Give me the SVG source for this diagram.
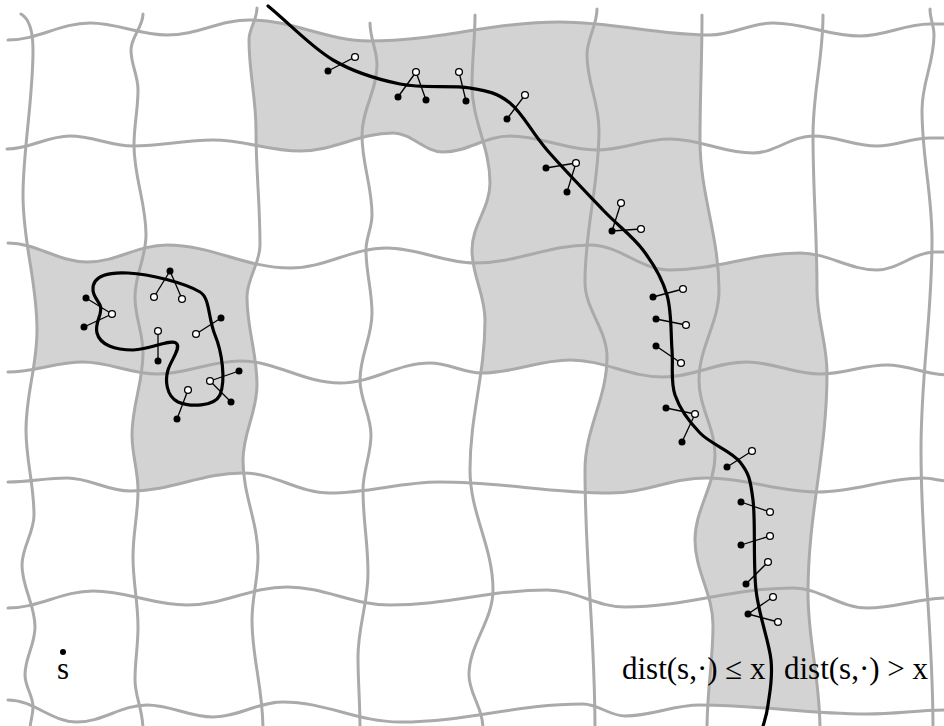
<svg xmlns="http://www.w3.org/2000/svg" width="944" height="726" viewBox="0 0 944 726">
<style>
.sh{fill:#d3d3d3;stroke:none}
.gl{fill:none;stroke:#aaaaaa;stroke-width:3;stroke-linecap:round}
.bc{fill:none;stroke:#000;stroke-width:3.2;stroke-linecap:round}
.dl{stroke:#000;stroke-width:1.3}
.fd{fill:#000}
.od{fill:#fff;stroke:#000;stroke-width:1.3}
.tx{font-family:"Liberation Serif","Times New Roman",serif;font-size:31px;fill:#000}
</style>
<defs>
<path id="H0" d="M8,40 C38,40 60,23 90,23 C118,23 139,35 167,35 C198,35 219,20 250,20 C294,20 326,41 370,41 C440,41 490,22 560,22 C615,22 655,35 710,35 C733,35 750,23 773,23 C805,23 828,36 860,36 C886,36 904,24 930,24 L948,24"/>
<path id="H1" d="M7,149 C30,149 47,136 70,136 C93,136 110,146 133,146 C163,146 183,140 213,140 C245,140 268,151 300,151 C334,151 359,133 393,133 C411,133 425,152 443,152 C468,152 485,136 510,136 C542,136 565,150 597,150 C624,150 643,139 670,139 C701,139 722,153 753,153 C775,153 791,136 813,136 C837,136 853,146 877,146 C897,146 910,138 930,138 L948,138"/>
<path id="H2" d="M8,243 C37,243 58,262 87,262 C117,262 137,245 167,245 C212,245 245,268 290,268 C326,268 351,248 387,248 C419,248 443,263 475,263 C517,263 548,245 590,245 C620,245 640,270 670,270 C718,270 752,253 800,253 C828,253 849,270 877,270 C898,270 914,252 935,252 L948,252"/>
<path id="H3" d="M8,372 C36,372 55,362 83,362 C110,362 130,374 157,374 C188,374 209,361 240,361 C277,361 303,383 340,383 C373,383 397,363 430,363 C449,363 463,373 482,373 C514,373 538,360 570,360 C604,360 629,377 663,377 C694,377 716,362 747,362 C774,362 793,374 820,374 C845,374 862,365 887,365 C909,365 926,375 948,375"/>
<path id="H4" d="M8,482 C30,482 45,478 67,478 C90,478 107,491 130,491 C172,491 201,473 243,473 C275,473 298,493 330,493 C371,493 399,482 440,482 C503,482 547,493 610,493 C646,493 671,478 707,478 C748,478 777,492 818,492 C857,492 884,478 923,478 C932,478 939,481 948,481"/>
<path id="H5" d="M8,608 C39,608 62,591 93,591 C128,591 152,605 187,605 C224,605 250,587 287,587 C325,587 352,605 390,605 C448,605 489,590 547,590 C576,590 596,607 625,607 C687,607 731,588 793,588 C820,588 840,608 867,608 C897,608 918,598 948,598"/>
<path id="H6" d="M8,700 C34,700 51,722 77,722 C103,722 121,705 147,705 C171,705 189,717 213,717 C239,717 257,702 283,702 C326,702 357,722 400,722 C468,722 515,704 583,704 C598,704 610,716 625,716 C653,716 672,705 700,705 C762,705 805,714 867,714 C897,714 918,710 948,710"/>
<path id="V0" d="M21,14 C28,18 33,28 33,50 C33,100 23,150 23,195 C23,245 37,280 37,330 C37,367 26,393 26,430 C26,461 34,484 34,515 C34,533 22,547 22,565 C22,588 35,604 35,627 C35,645 25,657 25,675 C25,687 33,695 33,707 C33,716 30,721 30,730"/>
<path id="V1" d="M143,14 C143,27 131,37 131,50 C131,65 138,75 138,90 C138,110 134,125 134,145 C134,178 146,202 146,235 C146,258 135,274 135,297 C135,318 143,332 143,353 C143,383 132,405 132,435 C132,455 138,470 138,490 C138,515 133,532 133,557 C133,583 138,601 138,627 C138,647 135,660 135,680 C135,697 143,709 143,730"/>
<path id="V2" d="M257,8 C257,20 249,28 249,40 C249,73 256,97 256,130 C256,173 260,202 260,245 C260,264 247,278 247,297 C247,330 257,352 257,385 C257,413 243,432 243,460 C243,496 258,521 258,557 C258,580 252,597 252,620 C252,659 263,687 263,730"/>
<path id="V3" d="M370,23 C370,39 377,49 377,65 C377,91 362,109 362,135 C362,165 372,185 372,215 C372,228 366,237 366,250 C366,273 372,290 372,313 C372,338 360,355 360,380 C360,400 371,415 371,435 C371,455 363,470 363,490 C363,521 368,542 368,573 C368,604 358,626 358,657 C358,683 360,700 360,730"/>
<path id="V4" d="M475,15 C475,41 472,59 472,85 C472,121 490,147 490,183 C490,208 472,225 472,250 C472,276 485,294 485,320 C485,375 470,415 470,470 C470,514 493,546 493,590 C493,621 469,644 469,675 C469,694 483,707 483,730"/>
<path id="V5" d="M597,9 C597,26 587,38 587,55 C587,83 599,102 599,130 C599,186 585,226 585,282 C585,310 607,329 607,357 C607,399 585,428 585,470 C585,565 595,631 595,730"/>
<path id="V6" d="M702,15 C702,61 700,94 700,140 C700,195 719,235 719,290 C719,323 699,347 699,380 C699,408 715,427 715,455 C715,486 695,509 695,540 C695,571 713,594 713,625 C713,662 707,689 707,730"/>
<path id="V7" d="M823,15 C823,59 813,91 813,135 C813,192 817,233 817,290 C817,321 827,342 827,373 C827,454 808,512 808,593 C808,642 820,677 820,730"/>
<path id="V8" d="M930,9 C930,19 934,25 934,35 C934,63 922,82 922,110 C922,158 932,192 932,240 C932,318 921,372 921,450 C921,552 933,624 933,730"/>

<clipPath id="bH0"><path d="M8,40 C38,40 60,23 90,23 C118,23 139,35 167,35 C198,35 219,20 250,20 C294,20 326,41 370,41 C440,41 490,22 560,22 C615,22 655,35 710,35 C733,35 750,23 773,23 C805,23 828,36 860,36 C886,36 904,24 930,24 L960,24 L960,740 L-20,740 L-20,40 Z"/></clipPath>
<clipPath id="bH1"><path d="M7,149 C30,149 47,136 70,136 C93,136 110,146 133,146 C163,146 183,140 213,140 C245,140 268,151 300,151 C334,151 359,133 393,133 C411,133 425,152 443,152 C468,152 485,136 510,136 C542,136 565,150 597,150 C624,150 643,139 670,139 C701,139 722,153 753,153 C775,153 791,136 813,136 C837,136 853,146 877,146 C897,146 910,138 930,138 L960,138 L960,740 L-20,740 L-20,149 Z"/></clipPath>
<clipPath id="aH1"><path d="M7,149 C30,149 47,136 70,136 C93,136 110,146 133,146 C163,146 183,140 213,140 C245,140 268,151 300,151 C334,151 359,133 393,133 C411,133 425,152 443,152 C468,152 485,136 510,136 C542,136 565,150 597,150 C624,150 643,139 670,139 C701,139 722,153 753,153 C775,153 791,136 813,136 C837,136 853,146 877,146 C897,146 910,138 930,138 L960,138 L960,-20 L-20,-20 L-20,149 Z"/></clipPath>
<clipPath id="bH2"><path d="M8,243 C37,243 58,262 87,262 C117,262 137,245 167,245 C212,245 245,268 290,268 C326,268 351,248 387,248 C419,248 443,263 475,263 C517,263 548,245 590,245 C620,245 640,270 670,270 C718,270 752,253 800,253 C828,253 849,270 877,270 C898,270 914,252 935,252 L960,252 L960,740 L-20,740 L-20,243 Z"/></clipPath>
<clipPath id="bH3"><path d="M8,372 C36,372 55,362 83,362 C110,362 130,374 157,374 C188,374 209,361 240,361 C277,361 303,383 340,383 C373,383 397,363 430,363 C449,363 463,373 482,373 C514,373 538,360 570,360 C604,360 629,377 663,377 C694,377 716,362 747,362 C774,362 793,374 820,374 C845,374 862,365 887,365 C909,365 926,375 948,375 L960,375 L960,740 L-20,740 L-20,372 Z"/></clipPath>
<clipPath id="aH3"><path d="M8,372 C36,372 55,362 83,362 C110,362 130,374 157,374 C188,374 209,361 240,361 C277,361 303,383 340,383 C373,383 397,363 430,363 C449,363 463,373 482,373 C514,373 538,360 570,360 C604,360 629,377 663,377 C694,377 716,362 747,362 C774,362 793,374 820,374 C845,374 862,365 887,365 C909,365 926,375 948,375 L960,375 L960,-20 L-20,-20 L-20,372 Z"/></clipPath>
<clipPath id="aH4"><path d="M8,482 C30,482 45,478 67,478 C90,478 107,491 130,491 C172,491 201,473 243,473 C275,473 298,493 330,493 C371,493 399,482 440,482 C503,482 547,493 610,493 C646,493 671,478 707,478 C748,478 777,492 818,492 C857,492 884,478 923,478 C932,478 939,481 948,481 L960,481 L960,-20 L-20,-20 L-20,482 Z"/></clipPath>
<clipPath id="aH6"><path d="M8,700 C34,700 51,722 77,722 C103,722 121,705 147,705 C171,705 189,717 213,717 C239,717 257,702 283,702 C326,702 357,722 400,722 C468,722 515,704 583,704 C598,704 610,716 625,716 C653,716 672,705 700,705 C762,705 805,714 867,714 C897,714 918,710 948,710 L960,710 L960,-20 L-20,-20 L-20,700 Z"/></clipPath>
<clipPath id="rV0"><path d="M21,14 C28,18 33,28 33,50 C33,100 23,150 23,195 C23,245 37,280 37,330 C37,367 26,393 26,430 C26,461 34,484 34,515 C34,533 22,547 22,565 C22,588 35,604 35,627 C35,645 25,657 25,675 C25,687 33,695 33,707 C33,716 30,721 30,730 L30,740 L960,740 L960,-20 L21,-20 Z"/></clipPath>
<clipPath id="rV1"><path d="M143,14 C143,27 131,37 131,50 C131,65 138,75 138,90 C138,110 134,125 134,145 C134,178 146,202 146,235 C146,258 135,274 135,297 C135,318 143,332 143,353 C143,383 132,405 132,435 C132,455 138,470 138,490 C138,515 133,532 133,557 C133,583 138,601 138,627 C138,647 135,660 135,680 C135,697 143,709 143,730 L143,740 L960,740 L960,-20 L143,-20 Z"/></clipPath>
<clipPath id="rV2"><path d="M257,8 C257,20 249,28 249,40 C249,73 256,97 256,130 C256,173 260,202 260,245 C260,264 247,278 247,297 C247,330 257,352 257,385 C257,413 243,432 243,460 C243,496 258,521 258,557 C258,580 252,597 252,620 C252,659 263,687 263,730 L263,740 L960,740 L960,-20 L257,-20 Z"/></clipPath>
<clipPath id="lV2"><path d="M257,8 C257,20 249,28 249,40 C249,73 256,97 256,130 C256,173 260,202 260,245 C260,264 247,278 247,297 C247,330 257,352 257,385 C257,413 243,432 243,460 C243,496 258,521 258,557 C258,580 252,597 252,620 C252,659 263,687 263,730 L263,740 L-20,740 L-20,-20 L257,-20 Z"/></clipPath>
<clipPath id="rV4"><path d="M475,15 C475,41 472,59 472,85 C472,121 490,147 490,183 C490,208 472,225 472,250 C472,276 485,294 485,320 C485,375 470,415 470,470 C470,514 493,546 493,590 C493,621 469,644 469,675 C469,694 483,707 483,730 L483,740 L960,740 L960,-20 L475,-20 Z"/></clipPath>
<clipPath id="rV5"><path d="M597,9 C597,26 587,38 587,55 C587,83 599,102 599,130 C599,186 585,226 585,282 C585,310 607,329 607,357 C607,399 585,428 585,470 C585,565 595,631 595,730 L595,740 L960,740 L960,-20 L597,-20 Z"/></clipPath>
<clipPath id="rV6"><path d="M702,15 C702,61 700,94 700,140 C700,195 719,235 719,290 C719,323 699,347 699,380 C699,408 715,427 715,455 C715,486 695,509 695,540 C695,571 713,594 713,625 C713,662 707,689 707,730 L707,740 L960,740 L960,-20 L702,-20 Z"/></clipPath>
<clipPath id="lV6"><path d="M702,15 C702,61 700,94 700,140 C700,195 719,235 719,290 C719,323 699,347 699,380 C699,408 715,427 715,455 C715,486 695,509 695,540 C695,571 713,594 713,625 C713,662 707,689 707,730 L707,740 L-20,740 L-20,-20 L702,-20 Z"/></clipPath>
<clipPath id="lV7"><path d="M823,15 C823,59 813,91 813,135 C813,192 817,233 817,290 C817,321 827,342 827,373 C827,454 808,512 808,593 C808,642 820,677 820,730 L820,740 L-20,740 L-20,-20 L823,-20 Z"/></clipPath>
</defs>

<g id="shading">
<g clip-path="url(#bH0)"><g clip-path="url(#aH1)"><g clip-path="url(#rV2)"><rect class="sh" clip-path="url(#lV6)" x="0" y="0" width="944" height="726"/></g></g></g>
<g clip-path="url(#bH1)"><g clip-path="url(#aH3)"><g clip-path="url(#rV4)"><rect class="sh" clip-path="url(#lV6)" x="0" y="0" width="944" height="726"/></g></g></g>
<g clip-path="url(#bH2)"><g clip-path="url(#aH6)"><g clip-path="url(#rV6)"><rect class="sh" clip-path="url(#lV7)" x="0" y="0" width="944" height="726"/></g></g></g>
<g clip-path="url(#bH3)"><g clip-path="url(#aH4)"><g clip-path="url(#rV5)"><rect class="sh" clip-path="url(#lV6)" x="0" y="0" width="944" height="726"/></g></g></g>
<g clip-path="url(#bH2)"><g clip-path="url(#aH3)"><g clip-path="url(#rV0)"><rect class="sh" clip-path="url(#lV2)" x="0" y="0" width="944" height="726"/></g></g></g>
<g clip-path="url(#bH3)"><g clip-path="url(#aH4)"><g clip-path="url(#rV1)"><rect class="sh" clip-path="url(#lV2)" x="0" y="0" width="944" height="726"/></g></g></g>
</g>

<g id="grid" class="gl">
<use href="#H0"/><use href="#H1"/><use href="#H2"/><use href="#H3"/><use href="#H4"/><use href="#H5"/><use href="#H6"/>
<use href="#V0"/><use href="#V1"/><use href="#V2"/><use href="#V3"/><use href="#V4"/><use href="#V5"/><use href="#V6"/><use href="#V7"/><use href="#V8"/>
</g>

<g id="connectors">
<path id="boundary" class="bc" d="M268,6 C290,24 311,47 333,60 C355,73 377.2,79.3 400,84 C422.8,88.7 451.7,84.8 470,88 C488.3,91.2 497.2,92.7 510,103 C522.8,113.3 531.5,132.2 547,150 C562.5,167.8 587,193.3 603,210 C619,226.7 632.3,235.8 643,250 C653.7,264.2 662.2,278.3 667,295 C671.8,311.7 670.7,333.3 672,350 C673.3,366.7 670.3,381.2 675,395 C679.7,408.8 689.2,421.8 700,433 C710.8,444.2 731.2,450.8 740,462 C748.8,473.2 750.3,478.7 753,500 C755.7,521.3 753,563.3 756,590 C759,616.7 769,640.8 771,660 C773,679.2 769.5,693.3 768,705 C766.5,716.7 764,721.7 762,730"/>
<path id="loop" class="bc" d="M93,290 C92,275 110,272 128,273 C150,274 185,283 200,292 C210,298 208,318 215,335 C222,352 226,380 220,395 C214,407 190,407 178,402 C166,396 165,380 168,370 C171,360 182,347 176,343 C170,339 152,349 133,350 C115,350 100,345 97,333 C94,322 104,313 100,305 C96,298 93,295 93,290 Z"/>
</g>

<g id="edges-lines" class="dl">
<line x1="328" y1="71" x2="355" y2="57"/>
<line x1="398" y1="97" x2="416" y2="72"/>
<line x1="426" y1="100" x2="416" y2="72"/>
<line x1="466" y1="101" x2="459" y2="72"/>
<line x1="507" y1="119" x2="525" y2="95"/>
<line x1="546" y1="168" x2="576" y2="163"/>
<line x1="567" y1="192" x2="576" y2="163"/>
<line x1="612" y1="231" x2="621" y2="203"/>
<line x1="612" y1="231" x2="641" y2="229"/>
<line x1="653" y1="297" x2="683" y2="289"/>
<line x1="656" y1="319" x2="686" y2="325"/>
<line x1="656" y1="346" x2="681" y2="363"/>
<line x1="666" y1="408" x2="695" y2="414"/>
<line x1="682" y1="442" x2="695" y2="414"/>
<line x1="727" y1="467" x2="752" y2="451"/>
<line x1="741" y1="502" x2="770" y2="512"/>
<line x1="741" y1="545" x2="770" y2="536"/>
<line x1="746" y1="584" x2="768" y2="562"/>
<line x1="748" y1="614" x2="773" y2="597"/>
<line x1="748" y1="614" x2="778" y2="622"/>
<line x1="170" y1="271" x2="154" y2="297"/>
<line x1="170" y1="271" x2="182" y2="299"/>
<line x1="86" y1="298" x2="112" y2="314"/>
<line x1="84" y1="327" x2="112" y2="314"/>
<line x1="158" y1="361" x2="158" y2="331"/>
<line x1="221" y1="318" x2="196" y2="334"/>
<line x1="239" y1="371" x2="210" y2="381"/>
<line x1="231" y1="402" x2="210" y2="381"/>
<line x1="177" y1="419" x2="188" y2="390"/>
</g>

<g id="filled-nodes" class="fd">
<circle cx="328" cy="71" r="3.5"/><circle cx="398" cy="97" r="3.5"/><circle cx="426" cy="100" r="3.5"/><circle cx="466" cy="101" r="3.5"/>
<circle cx="507" cy="119" r="3.5"/><circle cx="546" cy="168" r="3.5"/><circle cx="567" cy="192" r="3.5"/><circle cx="612" cy="231" r="3.5"/>
<circle cx="653" cy="297" r="3.5"/><circle cx="656" cy="319" r="3.5"/><circle cx="656" cy="346" r="3.5"/><circle cx="666" cy="408" r="3.5"/>
<circle cx="682" cy="442" r="3.5"/><circle cx="727" cy="467" r="3.5"/><circle cx="741" cy="502" r="3.5"/><circle cx="741" cy="545" r="3.5"/>
<circle cx="746" cy="584" r="3.5"/><circle cx="748" cy="614" r="3.5"/>
<circle cx="170" cy="271" r="3.5"/><circle cx="86" cy="298" r="3.5"/><circle cx="84" cy="327" r="3.5"/><circle cx="158" cy="361" r="3.5"/>
<circle cx="221" cy="318" r="3.5"/><circle cx="239" cy="371" r="3.5"/><circle cx="231" cy="402" r="3.5"/><circle cx="177" cy="419" r="3.5"/>
</g>

<g id="open-nodes" class="od">
<circle cx="355" cy="57" r="3.4"/><circle cx="416" cy="72" r="3.4"/><circle cx="459" cy="72" r="3.4"/><circle cx="525" cy="95" r="3.4"/>
<circle cx="576" cy="163" r="3.4"/><circle cx="621" cy="203" r="3.4"/><circle cx="641" cy="229" r="3.4"/><circle cx="683" cy="289" r="3.4"/>
<circle cx="686" cy="325" r="3.4"/><circle cx="681" cy="363" r="3.4"/><circle cx="695" cy="414" r="3.4"/><circle cx="752" cy="451" r="3.4"/>
<circle cx="770" cy="512" r="3.4"/><circle cx="770" cy="536" r="3.4"/><circle cx="768" cy="562" r="3.4"/><circle cx="773" cy="597" r="3.4"/>
<circle cx="778" cy="622" r="3.4"/>
<circle cx="154" cy="297" r="3.4"/><circle cx="182" cy="299" r="3.4"/><circle cx="112" cy="314" r="3.4"/><circle cx="158" cy="331" r="3.4"/>
<circle cx="196" cy="334" r="3.4"/><circle cx="210" cy="381" r="3.4"/><circle cx="188" cy="390" r="3.4"/>
</g>

<g id="source">
<circle cx="63" cy="652" r="3" fill="#000"/>
<text class="tx" x="63" y="679" text-anchor="middle">s</text>
</g>
<g id="labels">
<text class="tx" x="622" y="679">dist(s,·) ≤ x</text>
<text class="tx" x="784" y="679">dist(s,·) &gt; x</text>
</g>
</svg>
